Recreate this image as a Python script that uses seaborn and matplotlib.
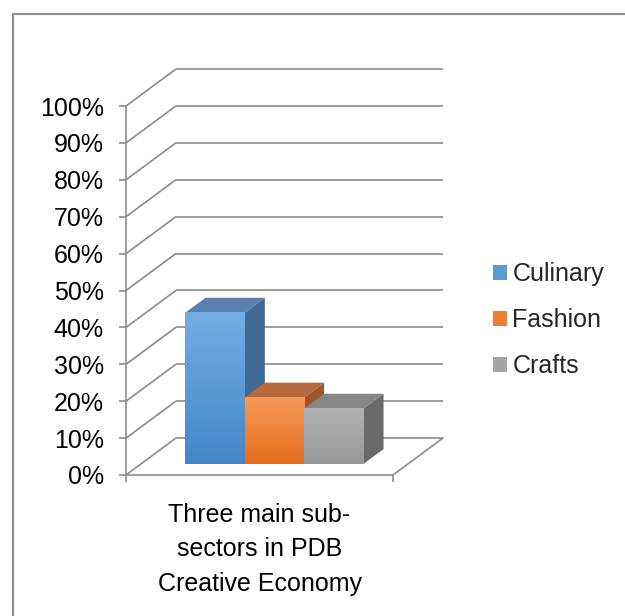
import numpy as np
import pandas as pd
import matplotlib
matplotlib.use("Agg")
import matplotlib.pyplot as plt
import seaborn as sns
from matplotlib.patches import Polygon
from matplotlib.lines import Line2D
from matplotlib.colors import LinearSegmentedColormap
import matplotlib.transforms as mtransforms

# ---------------- data ----------------
group_label = "Three main sub-\nsectors in PDB\nCreative Economy"
sectors = ["Culinary", "Fashion", "Crafts"]
shares = [0.41, 0.18, 0.15]
tick_values = [0.0, 0.1, 0.2, 0.3, 0.4, 0.5, 0.6, 0.7, 0.8, 0.9, 1.0]
tick_labels = ["0%", "10%", "20%", "30%", "40%", "50%", "60%", "70%", "80%", "90%", "100%"]

# ---------------- styles ----------------
legend_colors = ["#5b9bd5", "#ed7d31", "#a5a5a5"]
front_top = ["#75ace3", "#f59a5b", "#b3b3b3"]
front_bottom = ["#4387ca", "#e76d1b", "#979797"]
top_colors = ["#5a80ae", "#b6693d", "#868686"]
side_colors = ["#3e6a96", "#a45526", "#6a6a6a"]
grid_color = "#8c8c8c"

sns.set_theme(style="white")
plt.rcParams["font.family"] = ["Liberation Sans", "DejaVu Sans"]

df = pd.DataFrame({"group": [group_label] * len(sectors),
                   "sector": sectors,
                   "share": shares})

W, H = 625, 616
fig = plt.figure(figsize=(W / 100, H / 100), dpi=100)
ax = fig.add_axes([126 / W, (H - 475) / H, 317 / W, 406 / H])

DX = 50 / 267      # depth offset in category units
DY = 37 / 369      # depth offset in value units
D0, D1 = 0.3, 0.7  # bar depth range

sns.barplot(data=df, x="group", y="share", hue="sector", palette=legend_colors,
            width=0.667, dodge=True, ax=ax, saturation=1, legend=True,
            linewidth=0, zorder=3)

bars = list(ax.patches)[:len(sectors)]
shift = mtransforms.Affine2D().translate(D0 * DX, D0 * DY) + ax.transData

def proj(x, v, d):
    return (x + d * DX, v + d * DY)

for i, p in enumerate(bars):
    x0, w, h = p.get_x(), p.get_width(), p.get_height()
    x1 = x0 + w
    base = 3 + i * 0.1
    side = Polygon([proj(x1, 0, D0), proj(x1, h, D0), proj(x1, h, D1), proj(x1, 0, D1)],
                   closed=True, facecolor=side_colors[i], edgecolor="none", zorder=base)
    top = Polygon([proj(x0, h, D0), proj(x1, h, D0), proj(x1, h, D1), proj(x0, h, D1)],
                  closed=True, facecolor=top_colors[i], edgecolor="none", zorder=base + 0.01)
    ax.add_patch(side)
    ax.add_patch(top)
    p.set_transform(shift)
    p.set_zorder(base + 0.02)
    cmap = LinearSegmentedColormap.from_list(f"g{i}", [front_bottom[i], front_top[i]])
    grad = np.linspace(0, 1, 256).reshape(-1, 1)
    fx0, fy0 = proj(x0, 0, D0)
    fx1, fy1 = proj(x1, h, D0)
    ax.imshow(grad, extent=(fx0, fx1, fy0, fy1), origin="lower", cmap=cmap,
              aspect="auto", interpolation="bilinear", zorder=base + 0.03)

# perspective gridlines (left wall + back wall)
for v in tick_values:
    ax.plot([-0.5, -0.5 + DX], [v, v + DY], color=grid_color, lw=1.2, zorder=1,
            clip_on=False, solid_capstyle="butt")
    ax.plot([-0.5 + DX, 0.5 + DX], [v + DY, v + DY], color=grid_color, lw=1.2,
            zorder=1, clip_on=False, solid_capstyle="butt")
# floor right edge
ax.plot([0.5, 0.5 + DX], [0, DY], color=grid_color, lw=1.2, zorder=1, clip_on=False)

ax.set_xlim(-0.5, 0.5 + DX)
ax.set_ylim(0, 1 + DY)
ax.set_facecolor("white")

for s in ["top", "right"]:
    ax.spines[s].set_visible(False)
for s in ["left", "bottom"]:
    ax.spines[s].set_color(grid_color)
    ax.spines[s].set_linewidth(1.2)
ax.spines["left"].set_bounds(0, 1)
ax.spines["bottom"].set_bounds(-0.5, 0.5)

ax.set_yticks(tick_values, labels=tick_labels)
ax.tick_params(axis="y", length=5, width=1.2, color=grid_color, pad=11,
               labelsize=18, labelcolor="black", left=True)
ax.set_xticks([0], labels=[group_label])
ax.tick_params(axis="x", which="major", length=0, pad=20, labelsize=18,
               labelcolor="black")
ax.set_xticks([-0.5, 0.5], minor=True)
ax.tick_params(axis="x", which="minor", length=5, width=1.2, color=grid_color,
               bottom=True)
for lab in ax.get_xticklabels():
    lab.set_linespacing(1.55)
ax.set_xlabel("")
ax.set_ylabel("")

handles, labels = ax.get_legend_handles_labels()
if ax.get_legend() is not None:
    ax.get_legend().remove()
fig.legend(handles, labels, loc="center left", bbox_to_anchor=(493 / W, 1 - 320 / H),
           bbox_transform=fig.transFigure, frameon=False, fontsize=18,
           handlelength=0.55, handleheight=0.55, handletextpad=0.22,
           labelspacing=0.88, borderpad=0, borderaxespad=0)

# outer chart border (top and left visible)
fig.add_artist(Line2D([13 / W, 1.0], [1 - 13.5 / H, 1 - 13.5 / H],
                      transform=fig.transFigure, color="#8f8f8f", lw=1.5))
fig.add_artist(Line2D([13 / W, 13 / W], [0, 1 - 13.5 / H],
                      transform=fig.transFigure, color="#8f8f8f", lw=1.5))

fig.savefig("out.png", dpi=100)
